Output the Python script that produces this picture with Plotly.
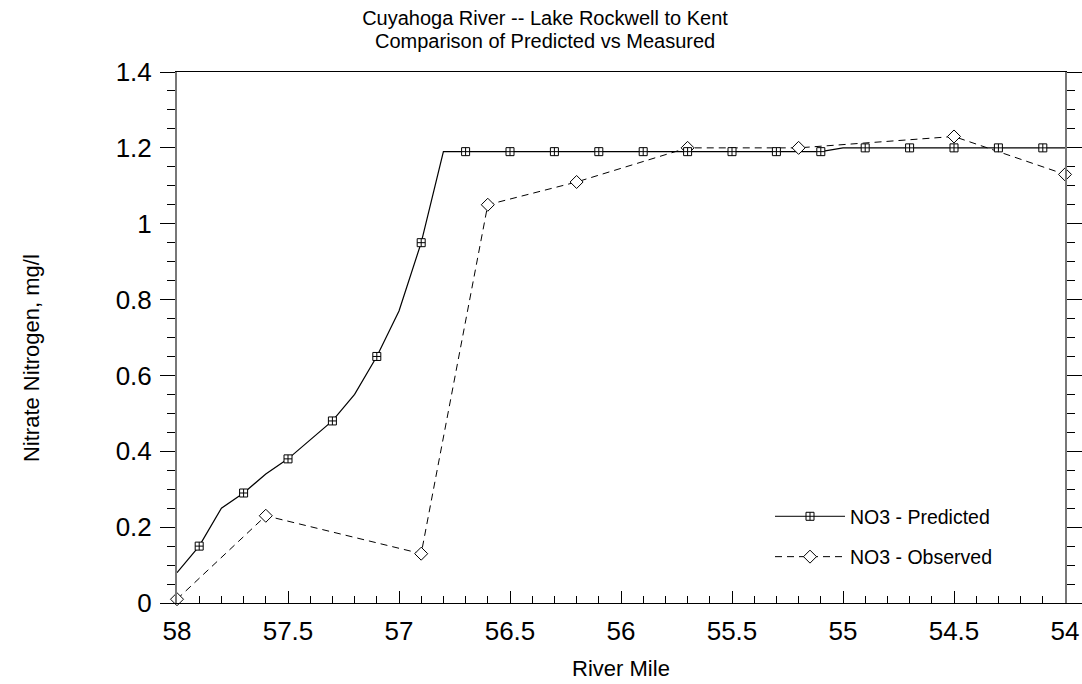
import plotly.graph_objects as go

# ---- data ----
pred_miles = [58.0, 57.9, 57.8, 57.7, 57.6, 57.5, 57.4, 57.3, 57.2, 57.1, 57.0,
              56.9, 56.8, 56.7, 56.6, 56.5, 56.4, 56.3, 56.2, 56.1, 56.0,
              55.9, 55.8, 55.7, 55.6, 55.5, 55.4, 55.3, 55.2, 55.1, 55.0,
              54.9, 54.8, 54.7, 54.6, 54.5, 54.4, 54.3, 54.2, 54.1, 54.0]
pred_values = [0.08, 0.15, 0.25, 0.29, 0.34, 0.38, 0.43, 0.48, 0.55, 0.65, 0.77,
               0.95, 1.19, 1.19, 1.19, 1.19, 1.19, 1.19, 1.19, 1.19, 1.19,
               1.19, 1.19, 1.19, 1.19, 1.19, 1.19, 1.19, 1.19, 1.19, 1.20,
               1.20, 1.20, 1.20, 1.20, 1.20, 1.20, 1.20, 1.20, 1.20, 1.20]
pred_marker_miles = [57.9, 57.7, 57.5, 57.3, 57.1, 56.9, 56.7, 56.5, 56.3, 56.1,
                     55.9, 55.7, 55.5, 55.3, 55.1, 54.9, 54.7, 54.5, 54.3, 54.1]
pred_marker_values = [0.15, 0.29, 0.38, 0.48, 0.65, 0.95, 1.19, 1.19, 1.19, 1.19,
                      1.19, 1.19, 1.19, 1.19, 1.19, 1.20, 1.20, 1.20, 1.20, 1.20]
obs_miles = [58.0, 57.6, 56.9, 56.6, 56.2, 55.7, 55.2, 54.5, 54.0]
obs_values = [0.01, 0.23, 0.13, 1.05, 1.11, 1.20, 1.20, 1.23, 1.13]

x_tickvals = [58, 57.5, 57, 56.5, 56, 55.5, 55, 54.5, 54]
x_ticktext = ["58", "57.5", "57", "56.5", "56", "55.5", "55", "54.5", "54"]
y_tickvals = [0, 0.2, 0.4, 0.6, 0.8, 1.0, 1.2, 1.4]
y_ticktext = ["0", "0.2", "0.4", "0.6", "0.8", "1", "1.2", "1.4"]

FONT = "Liberation Sans, Arial, sans-serif"

fig = go.Figure()

# predicted line
fig.add_trace(go.Scatter(x=pred_miles, y=pred_values, mode="lines",
                         line=dict(color="black", width=1.2),
                         showlegend=False, hoverinfo="skip"))
# observed
fig.add_trace(go.Scatter(x=obs_miles, y=obs_values, mode="lines+markers",
                         name="NO3 - Observed", legendgroup="b", legendrank=2,
                         line=dict(color="black", width=1, dash="7px,5px"),
                         marker=dict(symbol="diamond", size=10, color="white",
                                     line=dict(color="black", width=1)),
                         cliponaxis=False))
# predicted markers
fig.add_trace(go.Scatter(x=pred_marker_miles, y=pred_marker_values, mode="markers",
                         marker=dict(symbol="square-cross", size=8, color="white",
                                     line=dict(color="black", width=1)),
                         showlegend=False, cliponaxis=False))
# legend entry for predicted
fig.add_trace(go.Scatter(x=[None], y=[None], mode="lines+markers",
                         name="NO3 - Predicted", legendgroup="a", legendrank=1,
                         line=dict(color="black", width=1),
                         marker=dict(symbol="square-cross", size=8, color="white",
                                     line=dict(color="black", width=1))))

fig.update_layout(
    width=1082, height=684,
    paper_bgcolor="white", plot_bgcolor="white",
    margin=dict(l=177, r=17, t=72, b=81, autoexpand=False),
    font=dict(family=FONT, color="black"),
    title=dict(text="Cuyahoga River -- Lake Rockwell to Kent",
               x=0.5037, xanchor="center", yref="container", y=0.984, yanchor="top",
               font=dict(size=20, family=FONT)),
    legend=dict(x=0.6678, xanchor="left", y=0.1994, yanchor="top",
                traceorder="grouped", tracegroupgap=12, itemwidth=70,
                font=dict(size=19.5, family=FONT), bgcolor="rgba(0,0,0,0)"),
    showlegend=True,
)

fig.update_xaxes(
    range=[58, 54], autorange=False, automargin=False,
    tickmode="array", tickvals=x_tickvals, ticktext=x_ticktext,
    ticks="inside", ticklen=12, tickwidth=1, tickcolor="black",
    minor=dict(dtick=0.1, tick0=54, ticks="inside", ticklen=7, tickcolor="black", tickwidth=1),
    showline=True, linecolor="black", linewidth=1, mirror=True,
    showgrid=False, zeroline=False,
    tickfont=dict(size=26, family=FONT), ticklabelstandoff=5,
    title=dict(text="River Mile", font=dict(size=22, family=FONT), standoff=15),
)
fig.update_yaxes(
    range=[0, 1.4], autorange=False, automargin=False,
    tickmode="array", tickvals=y_tickvals, ticktext=y_ticktext,
    ticks="outside", ticklen=15, tickwidth=1, tickcolor="black",
    minor=dict(dtick=0.05, tick0=0, ticks="outside", ticklen=8, tickcolor="black", tickwidth=1),
    showline=True, linecolor="#777777", linewidth=2, mirror="ticks",
    showgrid=False, zeroline=False,
    tickfont=dict(size=26, family=FONT), ticklabelstandoff=3,
)

fig.add_annotation(text="Comparison of Predicted vs Measured",
                   xref="paper", yref="paper", x=(545 - 177) / 888, y=1.058,
                   xanchor="center", yanchor="middle", showarrow=False,
                   font=dict(size=20, family=FONT))

fig.add_annotation(text="Nitrate Nitrogen, mg/l", textangle=-90,
                   xref="paper", yref="paper", x=-0.164, y=0.462,
                   xanchor="center", yanchor="middle", showarrow=False,
                   font=dict(size=22, family=FONT))

fig.write_html("out.html", config={"displayModeBar": False},
               post_script="document.body.style.margin='0';document.body.style.overflow='hidden';")
